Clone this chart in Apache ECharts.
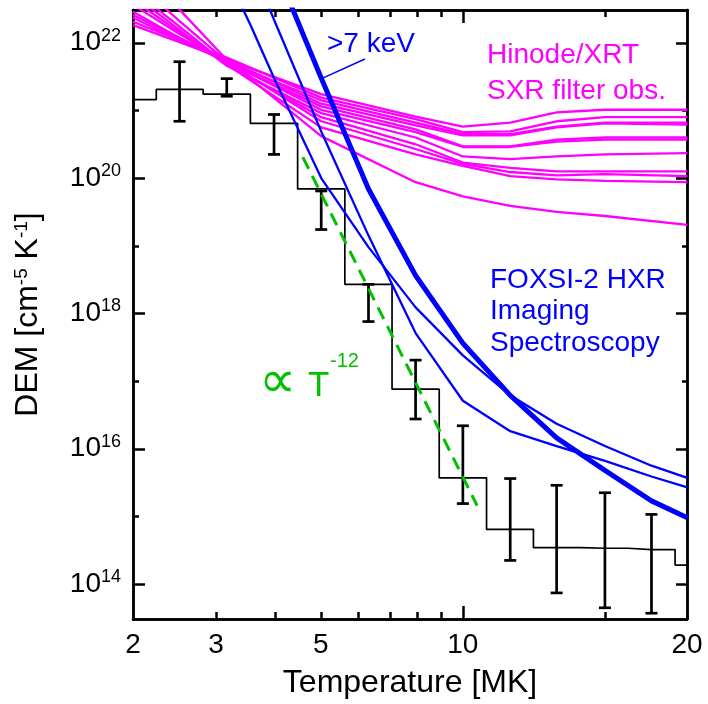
<!DOCTYPE html>
<html>
<head>
<meta charset="utf-8">
<script src="https://cdn.jsdelivr.net/npm/echarts@6/dist/echarts.min.js"></script>
<style>
html, body { margin: 0; padding: 0; background: #fff; }
#chart { width: 708px; height: 704px; }
</style>
</head>
<body>
<div id="chart"></div>
<script>
// temperatures in MK, DEM given as log10 of cm^-5 K^-1
var binTemps = [2.0, 2.51, 3.16, 3.98, 5.01, 6.31, 7.94, 10.0, 12.6, 15.8, 20.0, 25.1, 31.6];
var binDem   = [21.16, 21.31, 21.24, 20.81, 19.84, 18.43, 16.88, 15.57, 14.81, 14.54, 14.53, 14.51, 14.28];

var errTemps = [2.51, 3.16, 3.98, 5.01, 6.31, 7.94, 10.0, 12.6, 15.8, 20.0, 25.1];
var errLow   = [20.84, 21.21, 20.35, 19.24, 17.88, 16.44, 15.19, 14.35, 13.87, 13.65, 13.57];
var errHigh  = [21.72, 21.47, 20.94, 19.81, 18.43, 17.31, 16.34, 15.56, 15.46, 15.35, 15.03];

// Hinode/XRT EM loci
var xrtTemps = [2.0, 2.51, 3.16, 5.01, 7.94, 10.0, 12.6, 15.8, 20.0, 29.9];
var xrtCurves = [
    [22.26, 22.01, 21.75, 21.24, 20.91, 20.76, 20.82, 20.97, 21.01, 21.01],
    [22.31, 22.04, 21.78, 21.19, 20.87, 20.68, 20.69, 20.84, 20.90, 20.90],
    [22.37, 22.04, 21.72, 21.15, 20.82, 20.65, 20.65, 20.76, 20.82, 20.82],
    [22.41, 22.07, 21.75, 21.10, 20.78, 20.63, 20.63, 20.75, 20.81, 20.79],
    [22.46, 22.07, 21.71, 21.06, 20.72, 20.47, 20.47, 20.57, 20.60, 20.60],
    [22.56, 22.13, 21.72, 21.01, 20.68, 20.46, 20.46, 20.54, 20.57, 20.57],
    [22.71, 22.19, 21.66, 20.96, 20.60, 20.32, 20.28, 20.32, 20.35, 20.37],
    [22.63, 22.16, 21.69, 20.90, 20.50, 20.23, 20.15, 20.10, 20.10, 20.10],
    [22.93, 22.32, 21.72, 20.84, 20.43, 20.21, 20.09, 20.04, 20.06, 20.03],
    [22.78, 22.24, 21.68, 20.75, 20.35, 20.18, 20.03, 19.98, 19.96, 19.94],
    [23.22, 22.49, 21.75, 20.62, 19.94, 19.73, 19.59, 19.50, 19.44, 19.31]
];

// FOXSI-2 HXR loci
var hxrTemps  = [3.16, 3.55, 3.98, 5.01, 6.31, 7.94, 10.0, 12.6, 15.8, 20.0, 25.1, 29.9];
var hxrThinA  = [23.00, 22.26, 21.48, 20.00, 18.98, 18.09, 17.38, 16.79, 16.37, 16.04, 15.75, 15.57];
var hxrThinB  = [24.00, 23.19, 22.34, 20.69, 19.15, 17.71, 16.71, 16.26, 16.04, 15.82, 15.59, 15.43];
var hxrThick  = [24.84, 24.00, 23.16, 21.48, 19.84, 18.56, 17.56, 16.79, 16.16, 15.68, 15.23, 14.98];

var keVPointerT   = [6.2, 4.98];
var keVPointerDem = [21.76, 21.46];

var powerLawT   = [4.58, 10.72];
var powerLawDem = [20.31, 15.16];

var xMajor = [10];
var xMinor = [3, 4, 5, 6, 7, 8, 9, 20];
var xMax = 29.85;
var xLabels = [2, 3, 5, 10, xMax];
var yMajor = [1e14, 1e16, 1e18, 1e20, 1e22];
var yMinor = [1e15, 1e17, 1e19, 1e21];
var yMin = 3.05e13, yMax = 3.05e22;

var FONT = '"Liberation Sans", Arial, Helvetica, sans-serif';

function pairs(xs, logs) {
    var out = [];
    for (var i = 0; i < xs.length; i++) {
        out.push([xs[i], Math.pow(10, logs[i])]);
    }
    return out;
}

var errData = [];
for (var i = 0; i < errTemps.length; i++) {
    errData.push([errTemps[i], Math.pow(10, errLow[i]), Math.pow(10, errHigh[i])]);
}

function xAxisDef(pos, ticks, len, labels) {
    return {
        type: 'log', position: pos, min: 2, max: xMax, logBase: 10,
        axisLine: { show: true, onZero: false, lineStyle: { color: '#000', width: 2.5 } },
        axisTick: { show: true, inside: true, length: len, customValues: ticks, lineStyle: { color: '#000', width: 2.5 } },
        minorTick: { show: false },
        splitLine: { show: false },
        axisLabel: labels ? {
            show: true, customValues: xLabels, margin: 12,
            color: '#000', fontSize: 28, fontFamily: FONT,
            formatter: function (v) { return v > 25 ? '20' : String(Math.round(v)); }
        } : { show: false }
    };
}

function yAxisDef(pos, ticks, len, labels) {
    return {
        type: 'log', position: pos, min: yMin, max: yMax, logBase: 10,
        axisLine: { show: true, onZero: false, lineStyle: { color: '#000', width: 2.5 } },
        axisTick: { show: true, inside: true, length: len, customValues: ticks, lineStyle: { color: '#000', width: 2.5 } },
        minorTick: { show: false },
        splitLine: { show: false },
        axisLabel: labels ? {
            show: true, customValues: yMajor, margin: 12,
            color: '#000', fontFamily: FONT,
            formatter: function (v) {
                return '{m|10}{s|' + Math.round(Math.log10(v)) + '}';
            },
            rich: {
                m: { fontSize: 28, lineHeight: 32, fontFamily: FONT, color: '#000' },
                s: { fontSize: 18, lineHeight: 18, verticalAlign: 'top', fontFamily: FONT, color: '#000' }
            }
        } : { show: false }
    };
}

var xAxes = [
    xAxisDef('bottom', xMajor, 13, true),
    xAxisDef('bottom', xMinor, 7, false),
    xAxisDef('top', xMajor, 13, false),
    xAxisDef('top', xMinor, 7, false)
];
xAxes[0].name = 'Temperature [MK]';
xAxes[0].nameLocation = 'middle';
xAxes[0].nameGap = 48;
xAxes[0].nameTextStyle = { color: '#000', fontSize: 32, fontFamily: FONT };

var yAxes = [
    yAxisDef('left', yMajor, 12, true),
    yAxisDef('left', yMinor, 6, false),
    yAxisDef('right', yMajor, 11, false),
    yAxisDef('right', yMinor, 5, false)
];
yAxes[0].name = 'DEM [cm{s|-5} K{s|-1}]';
yAxes[0].nameLocation = 'middle';
yAxes[0].nameGap = 89;
yAxes[0].nameTextStyle = {
    color: '#000', fontSize: 32, fontFamily: FONT,
    rich: { s: { fontSize: 19, verticalAlign: 'top', fontFamily: FONT, color: '#000' } }
};

var series = [];

series.push({
    type: 'line', step: 'middle', data: pairs(binTemps, binDem),
    showSymbol: false, symbol: 'none', silent: true,
    lineStyle: { color: '#000', width: 1.7 }, z: 2
});

series.push({
    type: 'custom', data: errData, silent: true, z: 3,
    encode: { x: 0, y: [1, 2] },
    renderItem: function (params, api) {
        var t = api.value(0);
        var lo = api.coord([t, api.value(1)]);
        var hi = api.coord([t, api.value(2)]);
        var w = 6;
        var st = { stroke: '#000', lineWidth: 2.7 };
        return {
            type: 'group',
            children: [
                { type: 'line', shape: { x1: hi[0], y1: hi[1], x2: lo[0], y2: lo[1] }, style: st },
                { type: 'line', shape: { x1: hi[0] - w, y1: hi[1], x2: hi[0] + w, y2: hi[1] }, style: st },
                { type: 'line', shape: { x1: lo[0] - w, y1: lo[1], x2: lo[0] + w, y2: lo[1] }, style: st }
            ]
        };
    }
});

series.push({
    type: 'line', data: pairs(powerLawT, powerLawDem),
    showSymbol: false, symbol: 'none', silent: true, z: 4,
    lineStyle: { color: '#00c000', width: 3, type: [13, 8] }
});

xrtCurves.forEach(function (c) {
    series.push({
        type: 'line', data: pairs(xrtTemps, c),
        showSymbol: false, symbol: 'none', silent: true, z: 5,
        lineStyle: { color: '#ff00ff', width: 2.3 }
    });
});

[[hxrThinA, 2.3], [hxrThinB, 2.3], [hxrThick, 5]].forEach(function (h) {
    series.push({
        type: 'line', data: pairs(hxrTemps, h[0]),
        showSymbol: false, symbol: 'none', silent: true, z: 6,
        lineStyle: { color: '#0000ff', width: h[1] }
    });
});

series.push({
    type: 'line', data: pairs(keVPointerT, keVPointerDem),
    showSymbol: false, symbol: 'none', silent: true, z: 6,
    lineStyle: { color: '#0000ff', width: 1.5 }
});

function txt(s, x, y, size, color) {
    return {
        type: 'text', x: x, y: y, silent: true, z: 10,
        style: { text: s, fill: color, font: size + 'px ' + FONT, textAlign: 'left', textVerticalAlign: 'middle' }
    };
}

var option = {
    animation: false,
    backgroundColor: '#fff',
    grid: { left: 133, right: 21, top: 10, bottom: 81, containLabel: false },
    xAxis: xAxes,
    yAxis: yAxes,
    series: series,
    graphic: [
        txt('>7 keV', 327, 44, 28, '#0000ff'),
        txt('Hinode/XRT', 487, 55, 28, '#ff00ff'),
        txt('SXR filter obs.', 487, 91, 28, '#ff00ff'),
        txt('FOXSI-2 HXR', 490, 280, 28, '#0000ff'),
        txt('Imaging', 490, 311, 28, '#0000ff'),
        txt('Spectroscopy', 490, 343, 28, '#0000ff'),
        txt('\u221d', 259, 383, 52, '#00c000'),
        txt('T', 308, 386, 35, '#00c000'),
        txt('-12', 330, 361, 20, '#00c000')
    ]
};

var chart = echarts.init(document.getElementById('chart'));
chart.setOption(option);
</script>
</body>
</html>
